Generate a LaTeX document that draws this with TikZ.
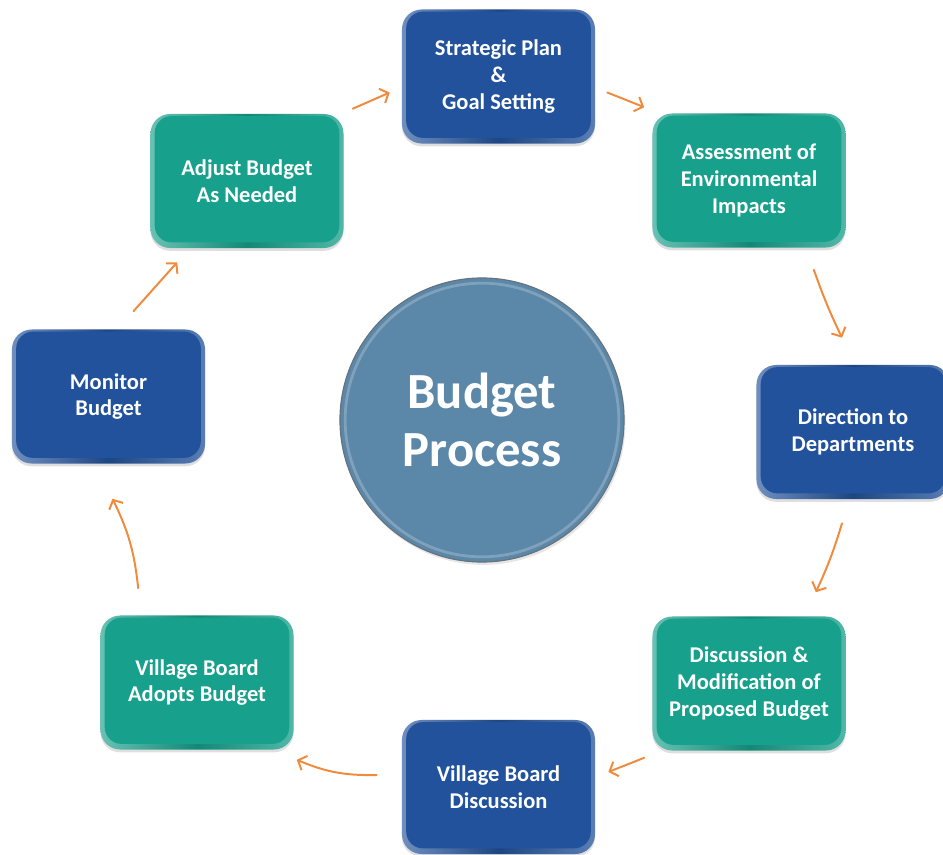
\documentclass[tikz,border=0pt]{standalone}
\usepackage{fontspec}
\setmainfont{Carlito}
\usetikzlibrary{arrows.meta,shadows}
\definecolor{stepblue}{HTML}{22529C}
\definecolor{stepteal}{HTML}{17A08B}
\definecolor{hubblue}{HTML}{5B87A8}
\definecolor{hubrim}{HTML}{66727C}
\definecolor{arroworange}{HTML}{F08A3C}
\tikzset{
  stage/.style={rounded corners=14pt, minimum width=4.825cm, minimum height=3.35cm,
    align=center, text=white, font=\bfseries\fontsize{16}{19}\selectfont,
    left color=#1!65!white, right color=#1!75!white, middle color=#1!85!black,
    drop shadow={shadow xshift=0pt, shadow yshift=-2pt, opacity=.25},
    path picture={\fill[#1, rounded corners=12pt]
      ([shift={(3pt,-1.5pt)}]path picture bounding box.north west) rectangle
      ([shift={(-3pt,4pt)}]path picture bounding box.south east);}},
  hub/.style={circle, minimum size=7.1cm, fill=hubblue, draw=hubrim, line width=.8pt,
    align=center, text=white, font=\bfseries\fontsize{36}{41}\selectfont,
    drop shadow={shadow xshift=1pt, shadow yshift=-2pt, opacity=.2},
    path picture={\draw[white, opacity=.22, line width=2pt]
      (path picture bounding box.center) circle (3.42cm);}},
  flow/.style={draw=arroworange, line width=1.4pt, line cap=round,
    -{Straight Barb[length=5pt, width=11pt]}}
}
\begin{document}
\begin{tikzpicture}[x=0.025cm, y=0.025cm]
  \clip (0,0) rectangle (943,-855);
  \node[hub] (hub) at (482,-420) {Budget\\Process};
  \node[stage=stepblue] (strat) at (498.5,-76.5) {Strategic Plan\\\&\\Goal Setting};
  \node[stage=stepteal] (assess) at (749,-180.5) {Assessment of\\Environmental\\Impacts};
  \node[stage=stepblue] (direct) at (853,-432) {Direction to\\Departments};
  \node[stage=stepteal] (discuss) at (749,-683.5) {Discussion \&\\Modification of\\Proposed Budget};
  \node[stage=stepblue] (vbdisc) at (498.5,-787) {Village Board\\Discussion};
  \node[stage=stepteal] (adopts) at (197,-682.5) {Village Board\\Adopts Budget};
  \node[stage=stepblue] (monitor) at (108.5,-396.5) {Monitor\\Budget};
  \node[stage=stepteal] (adjust) at (247,-181) {Adjust Budget\\As Needed};
  \draw[flow] ([shift={(9,5)}]adjust.north east) -- ([shift={(-12,-16)}]strat.west);
  \draw[flow] ([shift={(12,-16)}]strat.east) -- ([shift={(-8,6)}]assess.north west);
  \draw[flow] ([shift={(-32,-22)}]assess.south east) to[bend right=3] ([shift={(-11,27)}]direct.north);
  \draw[flow] ([shift={(-11,-24)}]direct.south) to[bend left=4] ([shift={(-30,24)}]discuss.north east);
  \draw[flow] ([shift={(-8,-7)}]discuss.south west) -- ([shift={(13,15)}]vbdisc.east);
  \draw[flow] ([shift={(-25,12)}]vbdisc.west) to[bend left=12] ([shift={(3,-10)}]adopts.south east);
  \draw[flow] ([shift={(38,27)}]adopts.north west) to[bend right=10] ([shift={(4,-35)}]monitor.south);
  \draw[flow] ([shift={(25,18)}]monitor.north) -- ([shift={(27,-14)}]adjust.south west);
\end{tikzpicture}
\end{document}
